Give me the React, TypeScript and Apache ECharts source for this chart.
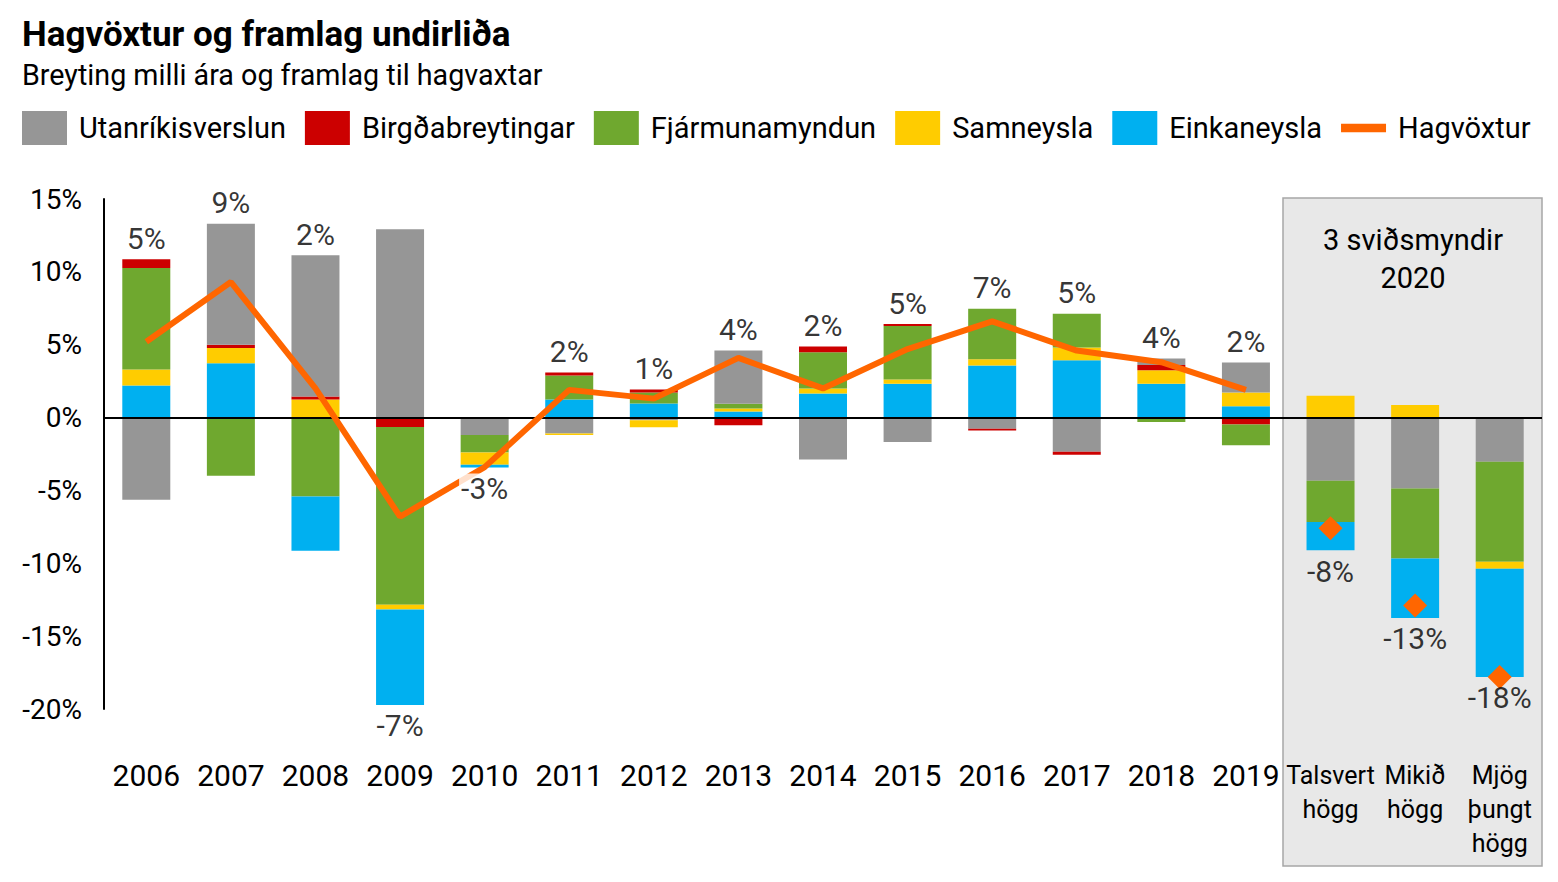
import React, { useEffect, useRef } from "react";
import * as echarts from "echarts";

const categories = [
  "2006", "2007", "2008", "2009", "2010", "2011", "2012", "2013", "2014",
  "2015", "2016", "2017", "2018", "2019",
  "Talsvert\nhögg", "Mikið\nhögg", "Mjög\nþungt\nhögg",
];

const utanrikisverslun = [-5.64, 8.3, 9.7, 12.92, -1.2, -1.1, -0.18, 3.66, -2.87, -1.67, -0.76, -2.35, 0.46, 2.06, -4.33, -4.86, -3.04];
const birgdabreytingar = [0.6, 0.23, 0.2, -0.64, 0, 0.2, 0.2, -0.53, 0.39, 0.14, -0.12, -0.2, 0.35, -0.48, 0, 0, 0];
const fjarmunamyndun = [6.96, -3.99, -5.41, -12.21, -1.19, 1.65, 0.76, 0.32, 2.5, 3.66, 3.45, 2.32, -0.3, -1.42, -2.84, -4.81, -6.86];
const samneysla = [1.1, 1.04, 1.24, -0.32, -0.85, -0.1, -0.48, 0.21, 0.34, 0.3, 0.44, 0.87, 0.93, 0.94, 1.49, 0.87, -0.48];
const einkaneysla = [2.2, 3.73, -3.73, -6.55, -0.18, 1.24, 0.96, 0.41, 1.65, 2.32, 3.57, 3.94, 2.32, 0.78, -1.93, -4.08, -7.42];
const hagvoxtur = [5.2, 9.3, 2.0, -6.8, -3.4, 1.9, 1.3, 4.1, 2.0, 4.7, 6.6, 4.6, 3.8, 1.9, -7.6, -12.9, -17.8];
const historyCount = 14;

const yTicks = { min: -20, max: 15, interval: 5 };

const components = [
  { name: "Utanríkisverslun", data: utanrikisverslun, color: "#969696" },
  { name: "Birgðabreytingar", data: birgdabreytingar, color: "#CC0000" },
  { name: "Fjármunamyndun", data: fjarmunamyndun, color: "#6FA82F" },
  { name: "Samneysla", data: samneysla, color: "#FFCC00" },
  { name: "Einkaneysla", data: einkaneysla, color: "#00B0F0" },
];

const FONT = "Roboto, 'Liberation Sans', sans-serif";

export default function App() {
  const ref = useRef<HTMLDivElement>(null);

  useEffect(() => {
    if (!ref.current) return;
    const chart = echarts.init(ref.current, null, { renderer: "svg" });

    const negSeries = components.map((c) => ({
      name: c.name,
      type: "bar",
      stack: "total",
      barWidth: 48,
      itemStyle: { color: c.color },
      data: c.data.map((v) => (v < 0 ? v : null)),
    }));
    const posSeries = [...components].reverse().map((c) => ({
      name: c.name,
      type: "bar",
      stack: "total",
      barWidth: 48,
      itemStyle: { color: c.color },
      data: c.data.map((v) => (v > 0 ? v : null)),
    }));

    const posSum = categories.map((_, i) =>
      components.reduce((s, c) => s + (c.data[i] > 0 ? c.data[i] : 0), 0)
    );
    const negSum = categories.map((_, i) =>
      components.reduce((s, c) => s + (c.data[i] < 0 ? c.data[i] : 0), 0)
    );

    const labelData = hagvoxtur.map((g, i) => ({
      value: [i, g >= 0 ? posSum[i] : negSum[i]],
      label: {
        position: g >= 0 ? "top" : "bottom",
        backgroundColor: i < historyCount ? "#ffffff" : "transparent",
      },
    }));

    const option = {
      animation: false,
      backgroundColor: "#ffffff",
      textStyle: { fontFamily: FONT, color: "#000" },
      title: {
        left: 17,
        top: 9,
        padding: 5,
        itemGap: 1,
        text: "Hagvöxtur og framlag undirliða",
        subtext: "Breyting milli ára og framlag til hagvaxtar",
        textStyle: { fontFamily: FONT, fontSize: 35, fontWeight: "bold", color: "#000", lineHeight: 40 },
        subtextStyle: { fontFamily: FONT, fontSize: 28.7, color: "#000", lineHeight: 40 },
      },
      legend: {
        left: 22,
        top: 111,
        padding: 0,
        itemWidth: 45,
        itemHeight: 34,
        itemGap: 19,
        data: [
          { name: "Utanríkisverslun", icon: "rect" },
          { name: "Birgðabreytingar", icon: "rect" },
          { name: "Fjármunamyndun", icon: "rect" },
          { name: "Samneysla", icon: "rect" },
          { name: "Einkaneysla", icon: "rect" },
          { name: "Hagvöxtur", icon: "path://M0,0 H38 V7 H0 Z" },
        ],
        textStyle: { fontFamily: FONT, fontSize: 29, color: "#000", padding: [0, 0, 0, 7] },
      },
      grid: { left: 104, right: 16, top: 199, bottom: 173, containLabel: false },
      xAxis: {
        type: "category",
        data: categories,
        axisLine: { show: false, onZero: false },
        axisTick: { show: false },
        axisLabel: {
          interval: 0,
          margin: 49,
          fontFamily: FONT,
          color: "#000",
          formatter: (value: string, index: number) =>
            index < historyCount
              ? `{y|${value}}`
              : value.split("\n").map((s) => `{s|${s}}`).join("\n"),
          rich: {
            y: { fontFamily: FONT, fontSize: 30, lineHeight: 34, color: "#000" },
            s: { fontFamily: FONT, fontSize: 25, lineHeight: 34, color: "#000" },
          },
        },
      },
      yAxis: {
        type: "value",
        min: yTicks.min,
        max: yTicks.max,
        interval: yTicks.interval,
        splitLine: { show: false },
        axisTick: { show: false },
        axisLine: { show: true, lineStyle: { color: "#000", width: 2 } },
        axisLabel: {
          formatter: "{value}%",
          fontFamily: FONT,
          fontSize: 28,
          color: "#000",
          margin: 22,
        },
      },
      graphic: [
        {
          type: "rect",
          z: -10,
          shape: { x: 1283, y: 198, width: 259, height: 668 },
          style: { fill: "#E8E8E8", stroke: "#A6A6A6", lineWidth: 1.5 },
        },
        {
          type: "text",
          z: 10,
          x: 1413,
          y: 259,
          style: {
            text: "3 sviðsmyndir\n2020",
            fontFamily: FONT,
            fontSize: 29,
            lineHeight: 38,
            fill: "#000",
            align: "center",
            verticalAlign: "middle",
          },
        },
      ],
      series: [
        ...negSeries,
        ...posSeries,
        {
          name: "Hagvöxtur",
          type: "line",
          z: 5,
          symbol: "none",
          color: "#FF6600",
          lineStyle: { color: "#FF6600", width: 6 },
          data: hagvoxtur.map((v, i) => (i < historyCount ? v : null)),
          markLine: {
            silent: true,
            symbol: "none",
            label: { show: false },
            lineStyle: { color: "#000", width: 2, type: "solid" },
            data: [{ yAxis: 0 }],
          },
        },
        {
          name: "Hagvöxtur sviðsmynda",
          type: "scatter",
          z: 6,
          symbol: "diamond",
          symbolSize: 24,
          itemStyle: { color: "#FF6600", opacity: 1 },
          data: hagvoxtur.map((v, i) => (i >= historyCount ? v : null)),
        },
        {
          name: "Gildi",
          type: "scatter",
          z: 8,
          symbolSize: 0,
          silent: true,
          data: labelData,
          label: {
            show: true,
            fontFamily: FONT,
            fontSize: 30,
            color: "#000",
            distance: 6,
            padding: [0, 2],
            formatter: (p: any) => Math.round(hagvoxtur[p.dataIndex]) + "%",
          },
        },
      ],
    };

    chart.setOption(option as any);
    return () => chart.dispose();
  }, []);

  return (
    <div
      ref={ref}
      style={{ position: "fixed", left: 0, top: 0, width: 1558, height: 882 }}
    />
  );
}
